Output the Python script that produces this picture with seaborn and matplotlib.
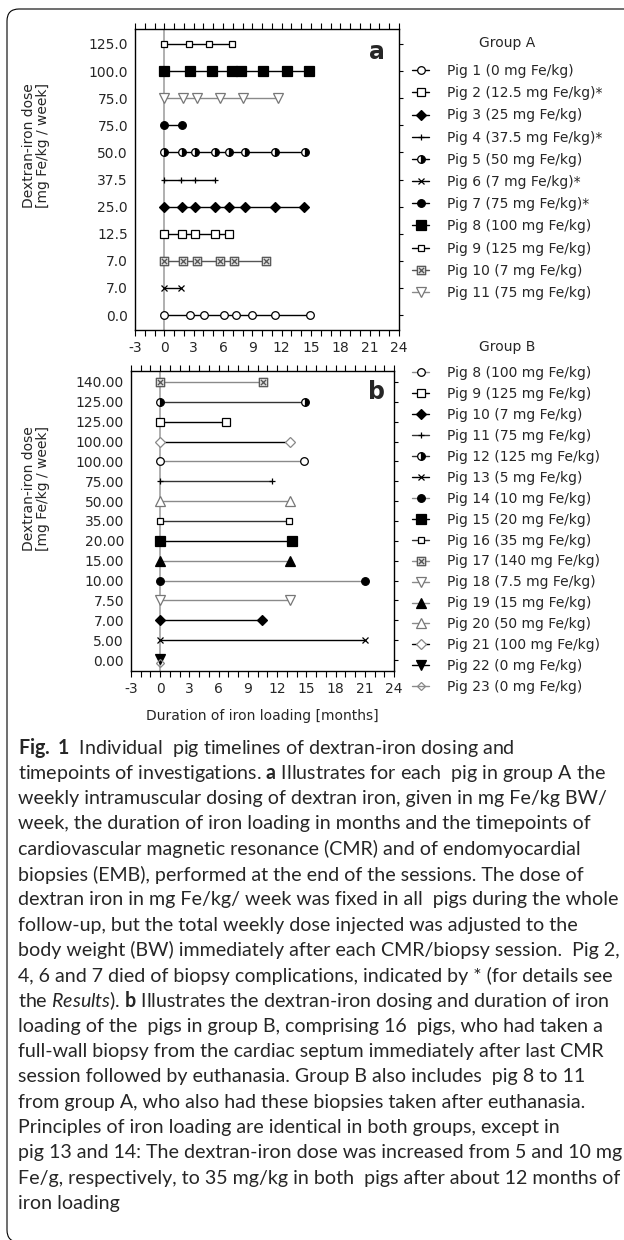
import matplotlib
matplotlib.use("Agg")
import matplotlib.pyplot as plt
import seaborn as sns
import pandas as pd
from matplotlib.path import Path
from matplotlib.patches import FancyBboxPatch
from matplotlib.ticker import MultipleLocator

# ---------------- data ----------------
# Group A
a_pigs = [1, 2, 3, 4, 5, 6, 7, 8, 9, 10, 11]
a_doses = [0, 12.5, 25, 37.5, 50, 7, 75, 100, 125, 7, 75]
a_died = ["", "*", "", "*", "", "*", "*", "", "", "", ""]
a_row_order = [1, 6, 10, 2, 3, 4, 5, 7, 11, 8, 9]  # bottom -> top
a_months = [
    [0, 2.6, 4.1, 6.1, 7.3, 9.0, 11.3, 14.9],   # pig 1
    [0, 1.8, 3.1, 5.2, 6.6],                     # pig 2
    [0, 1.8, 3.1, 5.2, 6.6, 8.2, 11.3, 14.3],    # pig 3
    [0, 1.7, 3.1, 5.2],                          # pig 4
    [0, 1.8, 3.1, 5.2, 6.6, 8.3, 11.3, 14.4],    # pig 5
    [0, 1.7],                                    # pig 6
    [0, 1.8],                                    # pig 7
    [0, 2.6, 4.9, 6.9, 7.8, 10.1, 12.5, 14.8],   # pig 8
    [0, 2.5, 4.6, 6.9],                          # pig 9
    [0, 1.9, 3.3, 5.7, 7.1, 10.4],               # pig 10
    [0, 1.9, 3.3, 5.7, 8.0, 11.6],               # pig 11
]

# Group B
b_pigs = [8, 9, 10, 11, 12, 13, 14, 15, 16, 17, 18, 19, 20, 21, 22, 23]
b_doses = [100, 125, 7, 75, 125, 5, 10, 20, 35, 140, 7.5, 15, 50, 100, 0, 0]
b_months = [
    [0, 14.8], [0, 6.8], [0, 10.4], [0, 11.5], [0, 14.9], [0, 21.0],
    [0, 21.0], [0, 13.5], [0, 13.2], [0, 10.5], [0, 13.3], [0, 13.3],
    [0, 13.3], [0, 13.3], [0], [0],
]
b_row_order = [22, 13, 10, 18, 14, 19, 15, 16, 20, 11, 8, 21, 9, 12, 17]  # bottom -> top
b_shared_rows = {23: 22}

xticks_major = [-3, 0, 3, 6, 9, 12, 15, 18, 21, 24]

# ---------------- styles ----------------
sns.set_style("white")
plt.rcParams["font.family"] = ["DejaVu Sans"]
plt.rcParams["mathtext.fontset"] = "custom"
plt.rcParams["mathtext.rm"] = "Lato"
plt.rcParams["mathtext.it"] = "Lato:italic"
plt.rcParams["mathtext.bf"] = "Lato:bold"

boxx = Path(
    [(-1, -1), (1, -1), (1, 1), (-1, 1), (-1, -1),
     (-0.65, -0.65), (0.65, 0.65), (-0.65, 0.65), (0.65, -0.65)],
    [Path.MOVETO, Path.LINETO, Path.LINETO, Path.LINETO, Path.CLOSEPOLY,
     Path.MOVETO, Path.LINETO, Path.MOVETO, Path.LINETO],
)

K, G, LG = "black", "#555555", "#8a8a8a"


def S(marker, fc, ec, lc, ms, fill="full", mew=0.9):
    return dict(marker=marker, markerfacecolor=fc, markeredgecolor=ec, color=lc,
                markersize=ms, fillstyle=fill, markerfacecoloralt="white",
                markeredgewidth=mew, linewidth=1.0)


a_styles = {
    1: S("o", "white", K, K, 5.5),
    2: S("s", "white", K, K, 5.2),
    3: S("D", K, K, K, 4.8),
    4: S("+", K, K, K, 4.5),
    5: S("o", K, K, K, 5.5, fill="right"),
    6: S("x", K, K, K, 4.5),
    7: S("o", K, K, K, 5.5),
    8: S("s", K, K, K, 6.5),
    9: S("s", "white", K, K, 4.3),
    10: S(boxx, "#d9d9d9", G, G, 6.0),
    11: S("v", "white", "#777777", LG, 6.5),
}
b_styles = {
    8: S("o", "white", K, LG, 5.5),
    9: S("s", "white", K, K, 5.5),
    10: S("D", K, K, K, 4.8),
    11: S("+", K, K, "#333333", 4.0),
    12: S("o", K, K, "#333333", 5.5, fill="right"),
    13: S("x", K, K, K, 4.5),
    14: S("o", K, K, LG, 5.5),
    15: S("s", K, K, K, 6.5),
    16: S("s", "white", K, "#333333", 4.3),
    17: S(boxx, "#d9d9d9", G, LG, 6.0),
    18: S("v", "white", "#777777", LG, 6.5),
    19: S("^", K, K, LG, 6.5),
    20: S("^", "white", "#777777", LG, 6.5),
    21: S("D", "white", "#888888", K, 5.0),
    22: S("v", K, K, K, 6.5),
    23: S("D", "none", "#888888", LG, 4.5),
}
row_nudge = {23: -0.13, 22: 0.06}

W, H = 624, 1240
fig = plt.figure(figsize=(W / 100, H / 100), dpi=100)


def px_axes(l, t, r, b):
    return fig.add_axes([l / W, 1 - b / H, (r - l) / W, (b - t) / H])


ax_a = px_axes(135, 29, 399, 330)
ax_b = px_axes(131, 371, 394, 671)


def draw_panel(ax, pigs, doses, months, row_order, shared, styles, died, fmt):
    rows = {p: i for i, p in enumerate(row_order)}
    for p, s in shared.items():
        rows[p] = rows[s]
    recs = []
    for p, m in zip(pigs, months):
        for t in m:
            recs.append(dict(pig=p, months=t, row=rows[p] + row_nudge.get(p, 0)))
    df = pd.DataFrame(recs)
    ax.axvline(0, color="#9a9a9a", lw=1.1, zorder=1)
    for i, p in enumerate(pigs):
        lab = f"Pig {p} ({doses[i]:g} mg Fe/kg){died[i]}"
        sns.lineplot(data=df[df.pig == p], x="months", y="row", ax=ax,
                     errorbar=None, sort=True, label=lab, zorder=3,
                     legend=False, **styles[p])
    dose_of = dict(zip(pigs, doses))
    ax.set_yticks(range(len(row_order)))
    ax.set_yticklabels([fmt.format(dose_of[p]) for p in row_order])
    ax.set_ylim(-0.553, len(row_order) - 1 + 0.553)
    ax.set_xlim(-3, 24)
    ax.set_xticks(xticks_major)
    ax.set_xticklabels([str(v) for v in xticks_major])
    ax.xaxis.set_minor_locator(MultipleLocator(1))
    ax.tick_params(axis="x", which="both", direction="out", length=4, width=0.8,
                   top=True, bottom=True, labeltop=False, labelsize=10, pad=4,
                   color="black")
    ax.tick_params(axis="y", which="both", left=False, right=True, direction="out",
                   length=3, width=0.8, labelsize=10, pad=2, color="black")
    for sp in ax.spines.values():
        sp.set_visible(True)
        sp.set_color("black")
        sp.set_linewidth(1.0)
    ax.set_xlabel("")
    ax.set_ylabel("")


draw_panel(ax_a, a_pigs, a_doses, a_months, a_row_order, {}, a_styles, a_died, "{:.1f}")
draw_panel(ax_b, b_pigs, b_doses, b_months, b_row_order, b_shared_rows, b_styles,
           [""] * len(b_pigs), "{:.2f}")

ax_b.set_xlabel("Duration of iron loading [months]", fontsize=10, labelpad=9)

ax_a.text(0.917, 0.924, "a", transform=ax_a.transAxes, ha="center", va="center",
          fontsize=17, fontweight="bold")
ax_b.text(0.935, 0.93, "b", transform=ax_b.transAxes, ha="center", va="center",
          fontsize=17, fontweight="bold")

for y in (146, 489):
    fig.text(36 / W, 1 - y / H, "Dextran-iron dose\n[mg Fe/kg / week]", rotation=90,
             ha="center", va="center", fontsize=10, multialignment="center",
             linespacing=1.05)

# legend titles
fig.text(507 / W, 1 - 43 / H, "Group A", ha="center", va="center", fontsize=10)
fig.text(507 / W, 1 - 347 / H, "Group B", ha="center", va="center", fontsize=10)

leg_kw = dict(loc="upper left", bbox_transform=fig.transFigure, frameon=False,
              fontsize=10, handlelength=1.25, handletextpad=1.3,
              borderpad=0, borderaxespad=0)
h, l = ax_a.get_legend_handles_labels()
ax_a.legend(h, l, bbox_to_anchor=(412 / W, 1 - 64 / H), labelspacing=0.59, **leg_kw)
h, l = ax_b.get_legend_handles_labels()
ax_b.legend(h, l, bbox_to_anchor=(412 / W, 1 - 366 / H), labelspacing=0.50, **leg_kw)

# ---------------- caption ----------------
caption = [
    r"$\mathbf{Fig.\ 1}$  Individual  pig timelines of dextran-iron dosing and",
    r"timepoints of investigations. $\mathbf{a}$ Illustrates for each  pig in group A the",
    "weekly intramuscular dosing of dextran iron, given in mg Fe/kg BW/",
    "week, the duration of iron loading in months and the timepoints of",
    "cardiovascular magnetic resonance (CMR) and of endomyocardial",
    "biopsies (EMB), performed at the end of the sessions. The dose of",
    "dextran iron in mg Fe/kg/ week was fixed in all  pigs during the whole",
    "follow-up, but the total weekly dose injected was adjusted to the",
    "body weight (BW) immediately after each CMR/biopsy session.  Pig 2,",
    "4, 6 and 7 died of biopsy complications, indicated by * (for details see",
    r"the $\mathit{Results}$). $\mathbf{b}$ Illustrates the dextran-iron dosing and duration of iron",
    "loading of the  pigs in group B, comprising 16  pigs, who had taken a",
    "full-wall biopsy from the cardiac septum immediately after last CMR",
    "session followed by euthanasia. Group B also includes  pig 8 to 11",
    "from group A, who also had these biopsies taken after euthanasia.",
    "Principles of iron loading are identical in both groups, except in",
    "pig 13 and 14: The dextran-iron dose was increased from 5 and 10 mg",
    "Fe/g, respectively, to 35 mg/kg in both  pigs after about 12 months of",
    "iron loading",
]
cap_texts = []
for i, line in enumerate(caption):
    y = 748 + i * 25.3
    cap_texts.append(fig.text(18 / W, 1 - y / H, line, ha="left", va="center",
                              fontsize=12, family=["Lato", "DejaVu Sans"]))
renderer = fig.canvas.get_renderer()
wref = cap_texts[6].get_window_extent(renderer).width
size = 12 * 598 / wref
for t in cap_texts:
    t.set_fontsize(size)

# rounded frame (open to the right / bottom edge of image)
frame = FancyBboxPatch((0.07, -0.02), 6.8, 12.33,
                       boxstyle="round,pad=0,rounding_size=0.12",
                       transform=fig.dpi_scale_trans, fill=False, ec="black", lw=0.8)
fig.add_artist(frame)

fig.savefig("out.png", dpi=100)
